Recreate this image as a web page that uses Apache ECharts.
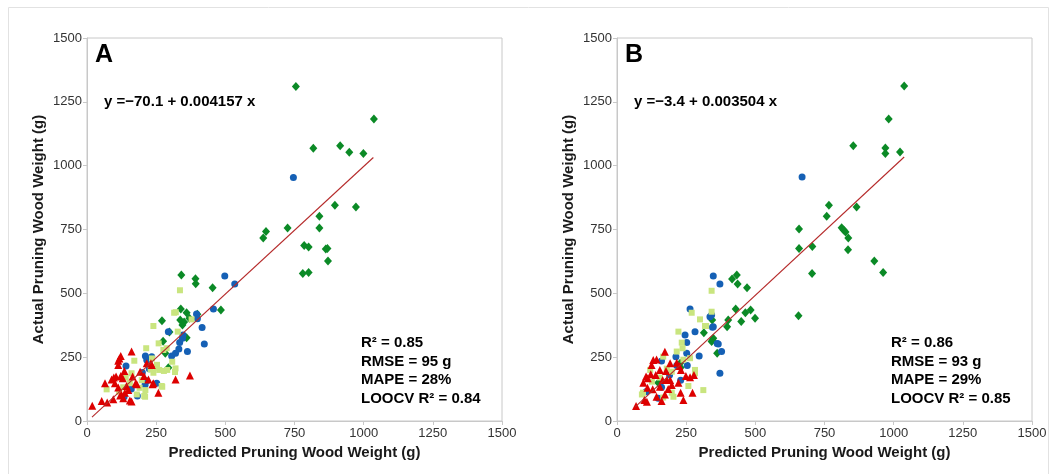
<!DOCTYPE html>
<html><head><meta charset="utf-8">
<script src="https://cdn.jsdelivr.net/npm/echarts@6/dist/echarts.min.js"></script>
<style>html,body{margin:0;padding:0;background:#fff}#c{width:1057px;height:474px}</style>
</head><body><div id="c"></div>
<script>
var ticks = [0, 250, 500, 750, 1000, 1250, 1500];
var xTitle = 'Predicted Pruning Wood Weight (g)';
var yTitle = 'Actual Pruning Wood Weight (g)';
var panelLetters = ['A', 'B'];
var equations = ['y =\u221270.1 + 0.004157 x', 'y =\u22123.4 + 0.003504 x'];
var statsA = ['R\u00b2 = 0.85', 'RMSE = 95 g', 'MAPE = 28%', 'LOOCV R\u00b2 = 0.84'];
var statsB = ['R\u00b2 = 0.86', 'RMSE = 93 g', 'MAPE = 29%', 'LOOCV R\u00b2 = 0.85'];

var lineA = [[18,15],[1035,1032]];
var lineB = [[65,54],[1038,1034]];

var darkGreenA = [[755,1310],[1037,1183],[818,1068],[915,1078],[948,1053],[999,1048],[896,845],[972,838],[840,802],[725,756],[840,756],[637,717],[647,742],[785,687],[801,681],[863,674],[869,676],[871,627],[780,578],[801,582],[341,572],[392,557],[393,538],[454,522],[484,435],[339,439],[360,424],[399,418],[370,402],[337,396],[345,376],[271,393],[275,312],[298,349],[360,326],[283,265],[294,209],[351,388]];
var blueA = [[746,954],[498,568],[534,537],[457,439],[396,419],[399,400],[416,366],[424,302],[363,272],[347,337],[345,324],[335,307],[332,282],[294,350],[306,255],[320,265],[211,255],[141,215],[252,148],[216,158],[210,142],[134,95],[182,98],[216,239],[234,252],[160,125],[200,190],[225,205]];
var lightGreenA = [[336,512],[321,426],[315,424],[240,372],[328,350],[214,285],[259,304],[288,285],[308,232],[320,206],[261,200],[278,196],[235,245],[230,202],[272,134],[171,236],[211,121],[207,98],[71,124],[116,115],[180,104],[161,187],[155,148],[198,160],[131,132],[252,209],[240,189],[276,278],[253,220],[290,200],[318,192],[270,137],[210,95],[378,398],[190,130],[140,170]];
var redA = [[19,60],[53,78],[73,72],[95,85],[65,148],[89,163],[105,174],[101,148],[113,131],[117,245],[122,255],[113,219],[135,196],[129,167],[125,102],[131,89],[137,111],[161,272],[165,174],[161,76],[176,148],[192,193],[206,176],[216,226],[234,219],[222,163],[237,144],[258,111],[320,163],[372,178],[122,176],[149,121],[143,137],[180,144],[113,236],[231,226],[240,148],[97,170],[120,100],[155,80]];

var darkGreenB = [[1038,1312],[982,1183],[854,1078],[970,1069],[970,1048],[1023,1054],[766,845],[758,802],[866,838],[812,757],[819,748],[826,740],[836,717],[835,671],[930,627],[962,582],[658,752],[658,676],[706,683],[705,578],[656,412],[416,556],[433,572],[436,537],[470,522],[429,439],[464,424],[483,435],[499,402],[449,390],[402,396],[398,369],[344,396],[314,346],[348,324],[345,316],[362,265],[342,311],[228,226],[149,150],[230,210]];
var blueB = [[669,956],[348,568],[372,537],[336,408],[345,367],[366,302],[378,272],[264,439],[342,415],[348,369],[282,350],[246,337],[252,307],[362,304],[297,255],[252,265],[213,252],[161,235],[216,217],[254,217],[372,187],[161,132],[105,115],[149,89],[190,180],[230,160]];
var lightGreenB = [[270,424],[300,398],[322,372],[222,350],[234,307],[237,285],[216,272],[167,252],[264,246],[282,200],[282,187],[198,193],[126,154],[258,137],[312,121],[94,111],[90,104],[198,111],[204,95],[167,92],[342,510],[342,428],[318,372],[155,170],[180,205],[120,200],[240,240]];
var redB = [[69,59],[99,82],[108,75],[129,124],[161,78],[240,82],[273,111],[230,111],[173,104],[143,95],[95,150],[105,174],[111,167],[125,219],[143,241],[131,239],[173,271],[155,200],[177,196],[165,161],[180,161],[192,161],[155,134],[198,141],[216,228],[225,215],[231,200],[192,226],[249,176],[278,180],[222,150],[264,171],[122,183],[140,180],[110,130],[185,125]];

var FONT = '"Liberation Sans", Arial, sans-serif';
var C = {dark:'#0b8a26', blue:'#1560b5', light:'#c9e57f', red:'#dd0000', line:'#b52a2a', axis:'#c8c8c8'};
function fmt(v){return ticks.indexOf(v)>=0?String(v):'';}

function xAx(i){return {gridIndex:i,type:'value',min:0,max:1500,interval:250,
  axisLine:{show:true,lineStyle:{color:C.axis}},axisTick:{show:true,length:4,lineStyle:{color:C.axis}},
  splitLine:{show:false},
  axisLabel:{color:'#333',fontSize:13,fontFamily:FONT,margin:6,formatter:fmt},
  name:xTitle,nameLocation:'middle',nameGap:24,
  nameTextStyle:{fontSize:15,fontWeight:'bold',color:'#1a1a1a',fontFamily:FONT}};}
function yAx(i){return {gridIndex:i,type:'value',min:0,max:1500,interval:250,
  axisLine:{show:true,lineStyle:{color:C.axis}},axisTick:{show:true,length:4,lineStyle:{color:C.axis}},
  splitLine:{show:false},
  axisLabel:{color:'#333',fontSize:13,fontFamily:FONT,margin:5,formatter:fmt},
  name:yTitle,nameLocation:'middle',nameGap:41,
  nameTextStyle:{fontSize:15,fontWeight:'bold',color:'#1a1a1a',fontFamily:FONT}};}

function sc(i,data,sym,size,color,z){return {type:'scatter',xAxisIndex:i,yAxisIndex:i,data:data,symbol:sym,symbolSize:size,
  itemStyle:{color:color,opacity:1},z:z,silent:true,animation:false};}
function ln(i,data){return {type:'line',xAxisIndex:i,yAxisIndex:i,data:data,symbol:'none',
  lineStyle:{color:C.line,width:1.1},z:10,silent:true,animation:false};}

var gridL = [87, 617];
var graphic = [{type:'rect',shape:{x:8.5,y:7.5,width:1040,height:480},style:{fill:'none',stroke:'#e2e2e2',lineWidth:1},z:-1}];
[statsA, statsB].forEach(function(st,i){
  var off = gridL[i]-87;
  graphic.push({type:'text',x:95+off,y:55,style:{text:panelLetters[i],font:'bold 25px '+FONT,fill:'#000',verticalAlign:'middle'}});
  graphic.push({type:'text',x:104+off,y:102,style:{text:equations[i],font:'bold 15px '+FONT,fill:'#000',verticalAlign:'middle'}});
  st.forEach(function(t,k){
    graphic.push({type:'text',x:361+off,y:343+k*18.5,style:{text:t,font:'bold 15px '+FONT,fill:'#000',verticalAlign:'middle'}});
  });
});

var chart = echarts.init(document.getElementById('c'), null, {renderer:'canvas'});
chart.setOption({
  animation:false,
  backgroundColor:'#fff',
  grid:[
    {left:gridL[0],top:38,width:415,height:383,show:true,borderColor:C.axis,borderWidth:1,backgroundColor:'transparent'},
    {left:gridL[1],top:38,width:415,height:383,show:true,borderColor:C.axis,borderWidth:1,backgroundColor:'transparent'}
  ],
  xAxis:[xAx(0),xAx(1)],
  yAxis:[yAx(0),yAx(1)],
  series:[
    sc(0,darkGreenA,'diamond',[8,9],C.dark,3), sc(0,blueA,'circle',7,C.blue,4), sc(0,lightGreenA,'rect',6,C.light,5), sc(0,redA,'triangle',8,C.red,6), ln(0,lineA),
    sc(1,darkGreenB,'diamond',[8,9],C.dark,3), sc(1,blueB,'circle',7,C.blue,4), sc(1,lightGreenB,'rect',6,C.light,5), sc(1,redB,'triangle',8,C.red,6), ln(1,lineB)
  ],
  graphic:graphic
});
</script></body></html>
